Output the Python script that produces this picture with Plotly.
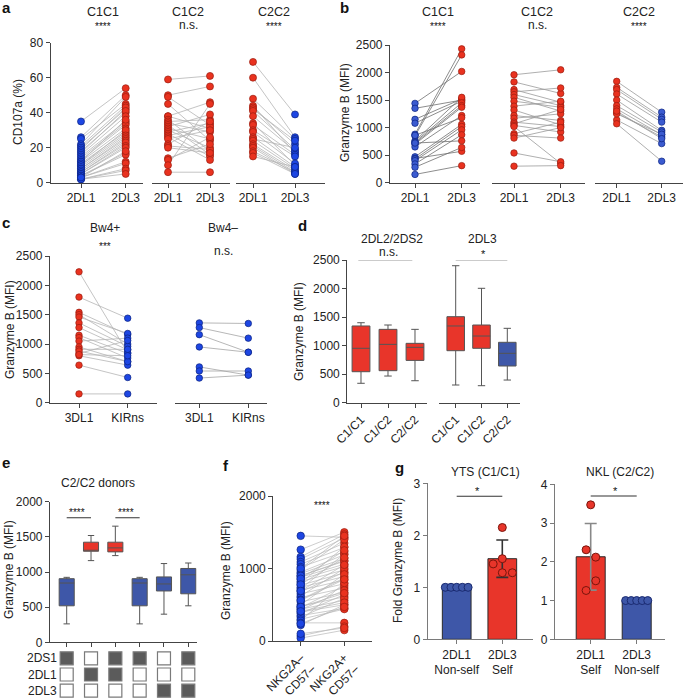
import plotly.graph_objects as go

W, H = 685, 699

# ---------------- data ----------------
pair_labels = ["2DL1", "2DL3"]
a_c1c1_2dl1 = [35, 26, 25, 22, 21, 20, 19, 18, 17, 16, 15, 14, 13, 12, 12, 11, 10, 10, 9, 8, 8, 7, 6, 6, 5, 5, 4, 4, 3, 3, 2, 2, 2, 3]
a_c1c1_2dl3 = [54, 50, 45, 49, 44, 42, 43, 40, 41, 38, 35, 34, 33, 31, 36, 29, 28, 30, 27, 26, 25, 24, 22, 23, 21, 20, 17, 16, 12, 11, 8, 7, 5, 18]
a_c1c2_2dl1 = [59, 50, 49, 45, 38, 38, 36, 35, 34, 33, 32, 31, 30, 29, 28, 27, 26, 25, 22, 21, 20, 14, 13, 10, 6]
a_c1c2_2dl3 = [61, 55, 33, 24, 46, 31, 18, 36, 29, 16, 39, 25, 20, 34, 15, 32, 13, 30, 35, 19, 17, 22, 26, 45, 6]
a_c2c2_2dl1 = [69, 60, 48, 44, 43, 42, 41, 38, 34, 33, 30, 29, 26, 25, 24, 22, 21, 20, 18, 17, 15]
a_c2c2_2dl3 = [39, 26, 25, 17, 22, 24, 19, 18, 10, 16, 15, 11, 9, 20, 8, 7, 6, 5, 6, 5, 9]

b_c1c1_2dl1 = [1440, 1350, 1150, 1080, 880, 850, 760, 740, 720, 700, 650, 470, 440, 430, 400, 340, 280, 150, 720, 860]
b_c1c1_2dl3 = [2020, 1500, 1520, 1480, 2430, 2320, 1550, 1450, 1400, 1370, 1220, 1060, 570, 1020, 960, 870, 640, 310, 760, 1180]
b_c1c2_2dl1 = [1960, 1830, 1690, 1650, 1600, 1550, 1480, 1390, 1320, 1220, 1170, 1100, 1070, 1040, 1020, 890, 860, 810, 540, 300]
b_c1c2_2dl3 = [2050, 1620, 1460, 1720, 1400, 1300, 1370, 1480, 1050, 1130, 1250, 1020, 1330, 920, 350, 1100, 810, 1000, 380, 310]
b_c2c2_2dl1 = [1840, 1730, 1690, 1610, 1500, 1400, 1340, 1270, 1140, 1070, 1250, 1300]
b_c2c2_2dl3 = [1280, 1190, 1150, 1100, 950, 920, 870, 830, 710, 390, 880, 800]

c_labels = ["3DL1", "KIRns"]
c_bw4pos_3dl1 = [2230, 1800, 1540, 1500, 1460, 1360, 1280, 1150, 1110, 1050, 950, 910, 840, 800, 640, 150, 880, 820]
c_bw4pos_kirns = [850, 1440, 1160, 1000, 1180, 960, 900, 840, 760, 1100, 700, 910, 1060, 640, 430, 150, 700, 800]
c_bw4neg_3dl1 = [1360, 1280, 1160, 950, 610, 540, 420]
c_bw4neg_kirns = [1350, 1100, 860, 860, 470, 540, 470]

d_groups = ["C1/C1", "C1/C2", "C2/C2"]
d1_lo = [340, 467, 385]
d1_q1 = [543, 561, 741]
d1_med = [953, 1022, 970]
d1_q3 = [1344, 1285, 1040]
d1_hi = [1401, 1361, 1285]
d2_lo = [310, 298, 397]
d2_q1 = [911, 953, 643]
d2_med = [1344, 1168, 865]
d2_q3 = [1507, 1361, 1058]
d2_hi = [2400, 2004, 1303]

e_lo = [262, 1162, 1233, 262, 400, 519]
e_q1 = [519, 1295, 1286, 519, 730, 690]
e_med = [843, 1305, 1343, 843, 830, 960]
e_q3 = [905, 1424, 1424, 905, 930, 1050]
e_hi = [924, 1519, 1652, 924, 1120, 1128]
e_rows = ["2DS1", "2DL1", "2DL3"]
e_grid = [[1, 0, 1, 1, 0, 1],
          [0, 1, 1, 0, 0, 0],
          [0, 0, 0, 0, 1, 1]]

f_labels = ["NKG2A–<br>CD57–", "NKG2A+<br>CD57–"]
f_nkg2aneg = [1450, 1260, 1160, 1130, 1090, 1060, 1020, 980, 950, 930, 900, 880, 850, 820, 800, 770, 740, 720, 700, 680,
              650, 620, 600, 570, 540, 500, 480, 460, 440, 430, 400, 380, 350, 330, 300, 280, 250, 220, 70, 40,
              1000, 900, 860, 780, 690, 560, 470, 410, 240, 100]
f_nkg2apos = [1430, 1500, 1470, 1420, 1350, 1290, 1230, 1400, 1190, 1140, 1100, 1060, 1030, 980, 1300, 940, 890, 1200, 840, 950,
              790, 1000, 730, 870, 670, 920, 610, 760, 560, 700, 500, 640, 450, 590, 440, 800, 250, 500, 200, 150,
              1450, 1110, 1250, 1150, 1050, 850, 660, 530, 470, 180]

g1_labels = ["2DL1<br>Non-self", "2DL3<br>Self"]
g1_mean = [1.0, 1.55]
g1_sd = [0, 0.36]
g1_pts = [[1, 1, 1, 1, 1], [2.15, 1.55, 1.45, 1.28, 1.28]]
g2_labels = ["2DL1<br>Self", "2DL3<br>Non-self"]
g2_mean = [2.13, 1.0]
g2_sd = [0.86, 0]
g2_pts = [[3.47, 2.31, 2.12, 1.51, 1.26], [1, 1, 1, 1, 1]]

# ---------------- style ----------------
FONT = "Liberation Sans, Arial, sans-serif"
TXT = "#222222"
RED = "#e9321f"; RED_EDGE = "#9a1c10"
BLUE = "#1d46e3"; BLUE_EDGE = "#0c2380"
BLUE_B = "#3b5bd0"
BOXRED = "#e8352a"; BOXBLUE = "#3e57a8"
AXC = "#444444"
g1_jit = [[-0.25, -0.125, 0, 0.125, 0.25], [0, 0, -0.2, 0, 0.22]]
g2_jit = [[0, -0.1, 0.11, 0.11, -0.1], [-0.24, -0.12, 0, 0.12, 0.24]]

fig = go.Figure()
axes = {}


def xd(l, r):
    return [l / W, r / W]


def yd(t, b):
    return [1 - b / H, 1 - t / H]


def add_axes(n, xl, xr, c0, step, yt, yb, yrange, ytickvals=None, yvisible=True,
             xtickvals=None, xticktext=None, xtickangle=0, xlabels=True, xvisible=True):
    s = "" if n == 1 else str(n)
    axes["xaxis" + s] = dict(domain=xd(xl, xr), range=[(xl - c0) / step, (xr - c0) / step],
                             anchor="y" + s, showline=True, linecolor=AXC, linewidth=1.2,
                             ticks="outside" if xtickvals is not None else "", ticklen=4,
                             tickcolor=AXC, tickwidth=1.2, showgrid=False, zeroline=False,
                             tickvals=xtickvals, ticktext=xticktext, tickangle=xtickangle,
                             showticklabels=xlabels, visible=xvisible, automargin=False,
                             tickfont=dict(size=12, family=FONT, color=TXT))
    axes["yaxis" + s] = dict(domain=yd(yt, yb), range=yrange, anchor="x" + s,
                             showline=True, linecolor=AXC, linewidth=1.2, ticks="outside",
                             ticklen=4, tickcolor=AXC, tickwidth=1.2, showgrid=False,
                             zeroline=False, tickvals=ytickvals, visible=yvisible, automargin=False,
                             tickfont=dict(size=12, family=FONT, color=TXT))
    return "x" + s, "y" + s


def paired(ax, left, right, cl, el, cr, er, lc, size=7, lw=0.8):
    xa, ya = ax
    xs, ys = [], []
    for a, b in zip(left, right):
        xs += [0, 1, None]
        ys += [a, b, None]
    fig.add_trace(go.Scatter(x=xs, y=ys, mode="lines", line=dict(color=lc, width=lw),
                             xaxis=xa, yaxis=ya, hoverinfo="skip", cliponaxis=False))
    fig.add_trace(go.Scatter(x=[0] * len(left), y=left, mode="markers", xaxis=xa, yaxis=ya,
                             marker=dict(color=cl, size=size, line=dict(color=el, width=0.7)),
                             cliponaxis=False))
    fig.add_trace(go.Scatter(x=[1] * len(right), y=right, mode="markers", xaxis=xa, yaxis=ya,
                             marker=dict(color=cr, size=size, line=dict(color=er, width=0.7)),
                             cliponaxis=False))


annotations = []


def ann(text, x, y, size=12, bold=False, angle=0, xanchor="center", color=None):
    annotations.append(dict(text=("<b>%s</b>" % text) if bold else text, x=x / W, y=1 - y / H,
                            xref="paper", yref="paper", showarrow=False, textangle=angle,
                            xanchor=xanchor, yanchor="middle",
                            font=dict(size=size, family=FONT,
                                      color=color or ("#111111" if bold else TXT))))


shapes = []


def hline(xa, ya, x0, x1, y):
    shapes.append(dict(type="line", xref=xa, yref=ya, x0=x0, x1=x1, y0=y, y1=y,
                       line=dict(color="#333333", width=1.1)))


# ---------------- panel a ----------------
ax_a1 = add_axes(1, 50.7, 143, 81, 44.7, 42.7, 182.7, [0, 80], [0, 20, 40, 60, 80],
                 xtickvals=[0, 1], xticktext=pair_labels)
ax_a2 = add_axes(2, 151.7, 230, 168, 42, 42.7, 182.7, [0, 80], yvisible=False,
                 xtickvals=[0, 1], xticktext=pair_labels)
ax_a3 = add_axes(3, 235.7, 325, 253, 42, 42.7, 182.7, [0, 80], yvisible=False,
                 xtickvals=[0, 1], xticktext=pair_labels)
paired(ax_a1, a_c1c1_2dl1, a_c1c1_2dl3, BLUE, BLUE_EDGE, RED, RED_EDGE, "#b5b5b5")
paired(ax_a2, a_c1c2_2dl1, a_c1c2_2dl3, RED, RED_EDGE, RED, RED_EDGE, "#b5b5b5")
paired(ax_a3, a_c2c2_2dl1, a_c2c2_2dl3, RED, RED_EDGE, BLUE, BLUE_EDGE, "#b5b5b5")

# ---------------- panel b ----------------
tk2500 = [0, 500, 1000, 1500, 2000, 2500]
ax_b1 = add_axes(4, 390, 480, 415, 46.7, 45, 182.7, [0, 2500], tk2500,
                 xtickvals=[0, 1], xticktext=pair_labels)
ax_b2 = add_axes(5, 491.7, 585, 514, 46.7, 45, 182.7, [0, 2500], yvisible=False,
                 xtickvals=[0, 1], xticktext=pair_labels)
ax_b3 = add_axes(6, 595, 683, 616.7, 45, 45, 182.7, [0, 2500], yvisible=False,
                 xtickvals=[0, 1], xticktext=pair_labels)
paired(ax_b1, b_c1c1_2dl1, b_c1c1_2dl3, BLUE_B, BLUE_EDGE, RED, RED_EDGE, "#707070", 6.5)
paired(ax_b2, b_c1c2_2dl1, b_c1c2_2dl3, RED, RED_EDGE, RED, RED_EDGE, "#9a9a9a", 6.5)
paired(ax_b3, b_c2c2_2dl1, b_c2c2_2dl3, RED, RED_EDGE, BLUE_B, BLUE_EDGE, "#9a9a9a", 6.5)

# ---------------- panel c ----------------
ax_c1 = add_axes(7, 50, 156.7, 79, 48.7, 256, 402.7, [0, 2500], tk2500,
                 xtickvals=[0, 1], xticktext=c_labels)
ax_c2 = add_axes(8, 175, 266.7, 199.3, 49, 256, 402.7, [0, 2500], yvisible=False,
                 xtickvals=[0, 1], xticktext=c_labels)
paired(ax_c1, c_bw4pos_3dl1, c_bw4pos_kirns, RED, RED_EDGE, BLUE, BLUE_EDGE, "#b5b5b5", 6.5)
paired(ax_c2, c_bw4neg_3dl1, c_bw4neg_kirns, BLUE, BLUE_EDGE, BLUE, BLUE_EDGE, "#a5a5a5", 6.5)

# ---------------- panel d ----------------
ax_d1 = add_axes(9, 347.3, 427, 361, 27, 260, 402.7, [0, 2500], tk2500,
                 xtickvals=[0, 1, 2], xticktext=d_groups, xtickangle=-45)
ax_d2 = add_axes(10, 439, 520, 455.7, 25.8, 260, 402.7, [0, 2500], yvisible=False,
                 xtickvals=[0, 1, 2], xticktext=d_groups, xtickangle=-45)


def boxes(ax, lo, q1, med, q3, hi, colors, width):
    xa, ya = ax
    for i in range(len(q1)):
        fig.add_trace(go.Box(x=[i], lowerfence=[lo[i]], q1=[q1[i]], median=[med[i]], q3=[q3[i]],
                             upperfence=[hi[i]], fillcolor=colors[i], width=width,
                             whiskerwidth=0.42, line=dict(color="#555555", width=1),
                             xaxis=xa, yaxis=ya, hoverinfo="skip"))


boxes(ax_d1, d1_lo, d1_q1, d1_med, d1_q3, d1_hi, [BOXRED, BOXRED, BOXRED], 0.66)
boxes(ax_d2, d2_lo, d2_q1, d2_med, d2_q3, d2_hi, [BOXRED, BOXRED, BOXBLUE], 0.68)
hline("x9", "y9", -0.1, 1.9, 2505)
hline("x10", "y10", 0, 2, 2505)

# ---------------- panel e ----------------
ax_e = add_axes(11, 50, 196.7, 66.7, 24.32, 501.7, 642.3, [0, 2000], [0, 500, 1000, 1500, 2000],
                xtickvals=[0, 1, 2, 3, 4, 5], xlabels=False)
boxes(ax_e, e_lo, e_q1, e_med, e_q3, e_hi, [BOXBLUE, BOXRED, BOXRED, BOXBLUE, BOXBLUE, BOXBLUE], 0.62)
hline("x11", "y11", 0, 1, 1772)
hline("x11", "y11", 2, 3, 1772)

# grid of KIR genotypes
axes["xaxis12"] = dict(domain=xd(50, 196.7), range=[(50 - 66.7) / 24.32, (196.7 - 66.7) / 24.32],
                       anchor="y12", visible=False, automargin=False)
axes["yaxis12"] = dict(domain=yd(650, 699), range=[(699 - 658.3) / 16.2, -(658.3 - 650) / 16.2],
                       anchor="x12", visible=False, automargin=False)
gx, gy, gc = [], [], []
for r, row in enumerate(e_grid):
    for c, v in enumerate(row):
        gx.append(c)
        gy.append(r)
        gc.append("#5b5b5b" if v else "#ffffff")
fig.add_trace(go.Scatter(x=gx, y=gy, mode="markers", xaxis="x12", yaxis="y12", cliponaxis=False,
                         marker=dict(symbol="square", size=13, color=gc,
                                     line=dict(color="#7a7a7a", width=1.2))))
for r, name in enumerate(e_rows):
    annotations.append(dict(text=name, x=58.5 / W, y=r, xref="paper", yref="y12", showarrow=False,
                            xanchor="right", yanchor="middle",
                            font=dict(size=12, family=FONT, color=TXT)))

# ---------------- panel f ----------------
ax_f = add_axes(13, 273.3, 371.7, 300.7, 43.6, 496, 641, [0, 2000], [0, 1000, 2000],
                xtickvals=[0, 1], xticktext=f_labels, xtickangle=-45)
paired(ax_f, f_nkg2aneg, f_nkg2apos, BLUE, BLUE_EDGE, RED, RED_EDGE, "#b8b8b8", 7.5, 0.7)

# ---------------- panel g ----------------
ax_g1 = add_axes(14, 427.7, 532.7, 456.7, 45.6, 483.3, 639.3, [0, 3], [0, 1, 2, 3],
                 xtickvals=[0, 1], xticktext=g1_labels)
ax_g2 = add_axes(15, 555, 665, 590.7, 46, 484.3, 639.3, [0, 4], [0, 1, 2, 3, 4],
                 xtickvals=[0, 1], xticktext=g2_labels)
for k in ("xaxis14", "yaxis14", "xaxis15", "yaxis15"):
    axes[k]["linecolor"] = "#7a7a7a"
    axes[k]["tickcolor"] = "#7a7a7a"


def bars(ax, means, sds, colors, pts, jit, pcolors, pedges, errc):
    xa, ya = ax
    for i in range(len(means)):
        fig.add_trace(go.Bar(x=[i], y=[means[i]], width=0.63, xaxis=xa, yaxis=ya,
                             marker=dict(color=colors[i], line=dict(color="#2a2a2a", width=1)),
                             error_y=dict(type="data", array=[sds[i]], visible=sds[i] > 0,
                                          color=errc, thickness=1.6, width=6)))
    for i in range(len(means)):
        fig.add_trace(go.Scatter(x=[i + j for j in jit[i]], y=pts[i], mode="markers",
                                 xaxis=xa, yaxis=ya, cliponaxis=False,
                                 marker=dict(color=pcolors[i], size=8,
                                             line=dict(color=pedges[i], width=1))))


bars(ax_g1, g1_mean, g1_sd, [BOXBLUE, BOXRED], g1_pts, g1_jit,
     [BOXBLUE, BOXRED], ["#1a2a70", "#7a150c"], "#333333")
bars(ax_g2, g2_mean, g2_sd, [BOXRED, BOXBLUE], g2_pts, g2_jit,
     [BOXRED, BOXBLUE], ["#7a150c", "#1a2a70"], "#888888")
hline("x14", "y14", 0, 1, 2.75)
hline("x15", "y15", 0, 1, 3.7)

# ---------------- text ----------------
for t, x, y in [("a", 6, 8), ("b", 344, 8), ("c", 6, 223), ("d", 302, 225),
                ("e", 6, 462), ("f", 226, 465), ("g", 399, 467)]:
    ann(t, x, y, size=15, bold=True)

ann("CD107a (%)", 18, 112, angle=-90)
ann("Granzyme B (MFI)", 345, 113, angle=-90)
ann("Granzyme B (MFI)", 10, 330, angle=-90)
ann("Granzyme B (MFI)", 299, 332, angle=-90)
ann("Granzyme B (MFI)", 9, 570, angle=-90)
ann("Granzyme B (MFI)", 226, 570, angle=-90)
ann("Fold Granzyme B (MFI)", 398, 561, angle=-90)

STAR = "#111111"
for t, x in [("C1C1", 103), ("C1C2", 188), ("C2C2", 274), ("C1C1", 438), ("C1C2", 537), ("C2C2", 639)]:
    ann(t, x, 12, size=12.5)
for t, x in [("****", 103), ("n.s.", 188), ("****", 274), ("****", 438), ("n.s.", 537), ("****", 639)]:
    if t == "****":
        ann(t, x, 26, size=10, color=STAR)
    else:
        ann(t, x, 25, size=12)

ann("Bw4+", 105, 228)
ann("***", 105, 247, size=10, color=STAR)
ann("Bw4–", 223, 228)
ann("n.s.", 223, 251)

ann("2DL2/2DS2", 392, 239)
ann("n.s.", 388, 251.5)
ann("2DL3", 482, 239)
ann("*", 483, 254, size=11, color=STAR)

ann("C2/C2 donors", 98, 483)
ann("****", 77, 512, size=10, color=STAR)
ann("****", 126, 512, size=10, color=STAR)

ann("****", 322, 505, size=10, color=STAR)

ann("YTS (C1/C1)", 485, 472)
ann("NKL (C2/C2)", 620, 472)
ann("*", 477, 491, size=11, color=STAR)
ann("*", 615, 491, size=11, color=STAR)

fig.update_layout(width=W, height=H, autosize=False, margin=dict(l=0, r=0, t=0, b=0, pad=0),
                  paper_bgcolor="white", plot_bgcolor="rgba(0,0,0,0)", showlegend=False,
                  barmode="overlay", annotations=annotations, shapes=shapes,
                  font=dict(family=FONT, color=TXT, size=12), **axes)

fig.write_html("out.html", config={"displayModeBar": False},
               post_script="document.body.style.margin='0';document.body.style.padding='0';")
